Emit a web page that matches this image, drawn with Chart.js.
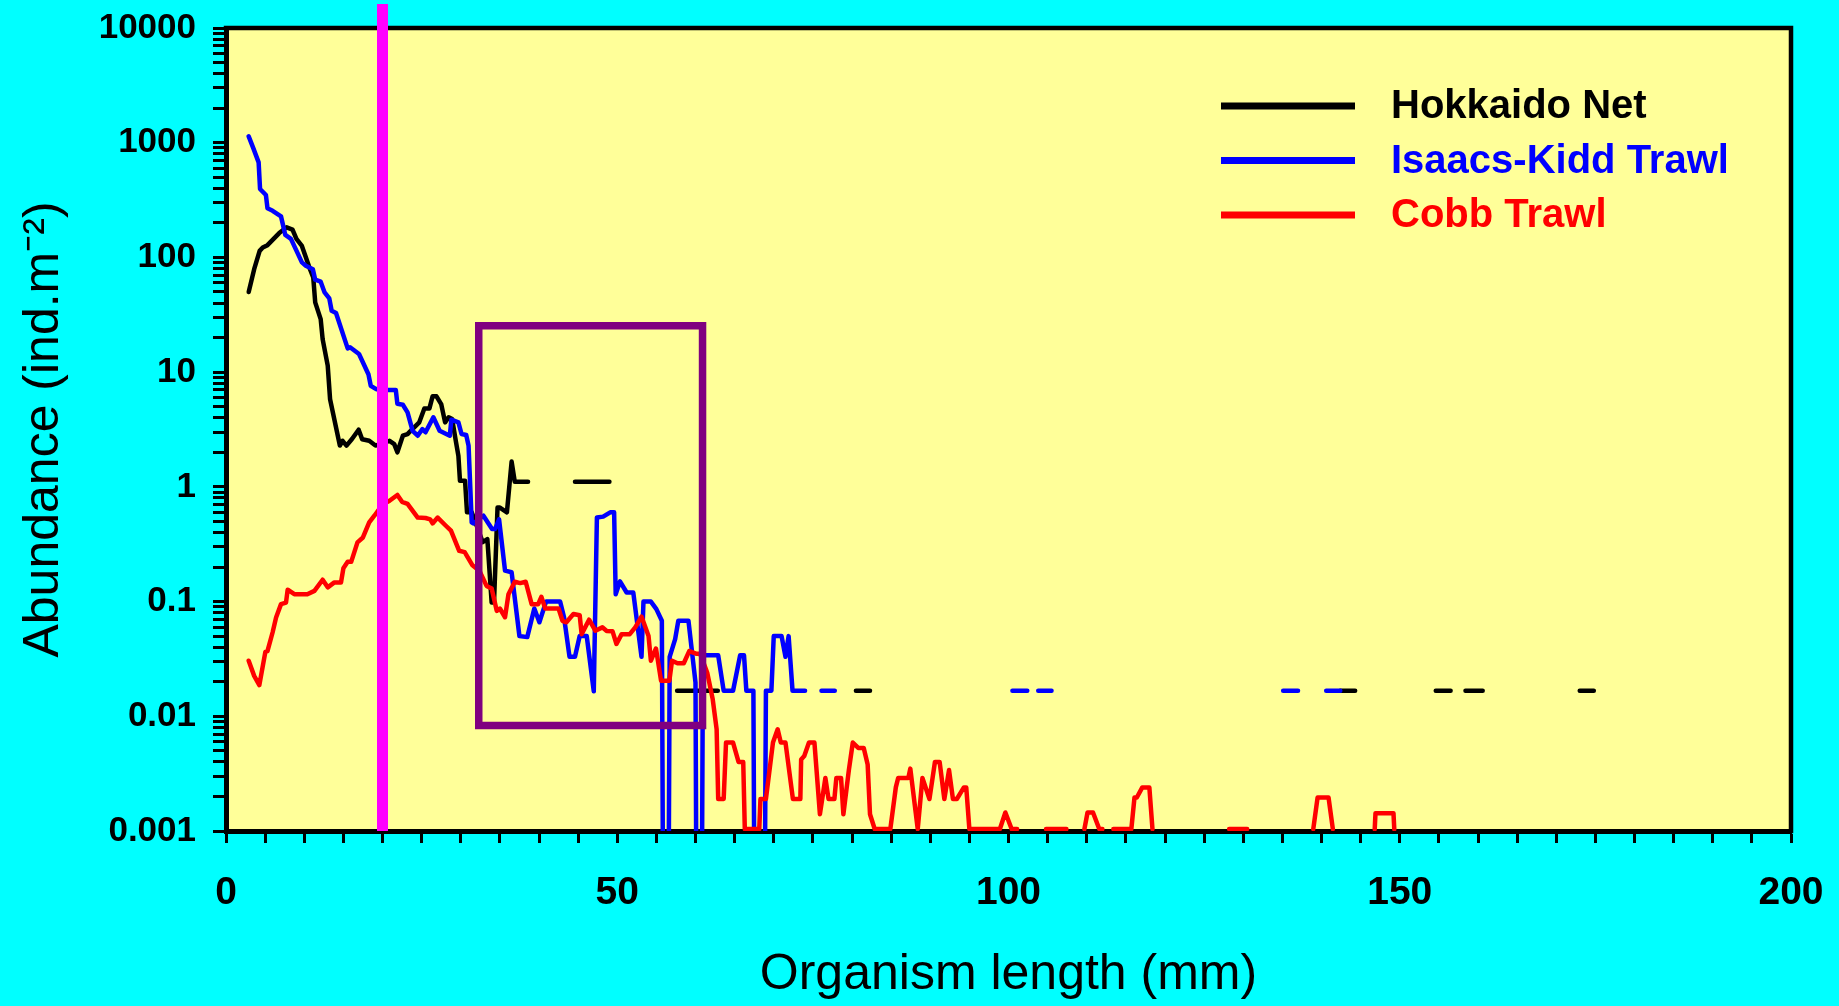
<!DOCTYPE html>
<html>
<head>
<meta charset="utf-8">
<title>Abundance by organism length</title>
<script src="https://cdn.jsdelivr.net/npm/chart.js@4.4.1/dist/chart.umd.min.js"></script>
<style>
    html, body { margin: 0; padding: 0; background: #00ffff; }
    canvas { display: block; }
</style>
</head>
<body>
<canvas id="graph" width="1839" height="1006"></canvas>
<script>
/* [length mm, abundance ind/m2]; null = empty bin, 1e-9 = zero catch (drops off the log axis) */
var hokkaido_net = [
    [2.9, 50], [3.6, 79], [4.3, 114], [4.7, 122], [5.3, 128], [6.8, 163], [7.75, 183], [8.5, 175],
    [9.0, 145], [9.7, 126], [10.65, 82], [11.15, 67], [11.4, 40.6], [12.1, 29], [12.35, 19.4],
    [13.0, 11.4], [13.3, 5.8], [14.55, 2.29], [14.9, 2.52], [15.4, 2.29], [16.1, 2.61], [16.95, 3.15],
    [17.4, 2.6], [18.3, 2.52], [19.1, 2.29], [20.9, 2.52], [21.5, 2.36], [21.9, 2.0], [22.6, 2.79],
    [23.2, 2.88], [23.6, 3.08], [24.7, 3.65], [25.35, 4.83], [26.0, 4.83], [26.4, 6.15], [26.9, 6.15],
    [27.5, 5.27], [28.0, 3.65], [28.45, 4.04], [28.9, 3.9], [29.4, 2.44], [29.7, 1.86], [29.9, 1.13],
    [30.55, 1.13], [30.8, 0.6], [31.4, 0.6], [32.8, 0.33], [33.4, 0.35], [33.95, 0.098], [34.25, 0.098],
    [34.7, 0.66], [35.0, 0.66], [35.9, 0.6], [36.5, 1.66], [36.9, 1.11], [38.6, 1.11],
    [41.5, null], [44.6, 1.11], [49.0, 1.11],
    [53, null], [57.65, 0.0167], [62.85, 0.0167],
    [70, null], [80.5, 0.0167], [82.3, 0.0167],
    [110, null], [142.4, 0.0167], [144.3, 0.0167],
    [150, null], [154.6, 0.0167], [156.5, 0.0167],
    [157.5, null], [158.4, 0.0167], [160.6, 0.0167],
    [165, null], [173.0, 0.0167], [174.8, 0.0167]
];

var isaacs_kidd_trawl = [
    [2.9, 1137], [3.5, 893], [4.17, 674], [4.35, 395], [5.1, 350], [5.3, 268], [5.96, 255], [7.03, 228],
    [7.58, 157], [8.3, 145], [9.7, 90.5], [10.2, 84.7], [11.1, 79], [11.4, 64], [12.1, 61.4], [12.6, 49.5],
    [13.2, 44], [13.5, 34.3], [14.06, 32.8], [15.55, 16.1], [15.85, 16.5], [17.0, 14.4], [18.2, 9.6],
    [18.5, 7.6], [19.2, 7.1], [20.8, 7.0], [21.7, 7.0], [21.9, 5.3], [22.6, 5.2], [23.2, 4.46],
    [23.85, 3.08], [24.5, 2.79], [25.1, 3.19], [25.5, 2.99], [26.5, 4.04], [27.3, 3.08], [28.6, 2.79],
    [28.8, 3.85], [29.7, 3.65], [30.1, 2.89], [30.7, 2.83], [31.0, 2.28], [31.4, 0.49], [31.6, 0.48],
    [32.9, 0.56], [34.0, 0.43], [34.4, 0.43], [34.9, 0.52], [35.66, 0.186], [36.5, 0.18], [37.5, 0.05],
    [38.5, 0.049], [39.4, 0.087], [40.05, 0.066], [40.9, 0.1], [42.7, 0.1], [43.2, 0.073], [43.9, 0.033],
    [44.6, 0.033], [45.2, 0.05], [46.1, 0.05], [47.0, 0.0165], [47.4, 0.54], [48.2, 0.55], [49.1, 0.6],
    [49.6, 0.6], [49.8, 0.116], [50.35, 0.15], [51.2, 0.12], [52.05, 0.12], [53.1, 0.033], [53.35, 0.1],
    [54.3, 0.1], [55.0, 0.086], [55.7, 0.068], [56.2, 1e-9], [56.7, 0.033], [57.4, 0.047], [57.8, 0.068],
    [59.1, 0.068], [60.0, 0.0197], [60.45, 1e-9], [60.95, 0.034], [62.9, 0.034], [63.6, 0.0167],
    [64.8, 0.0167], [65.7, 0.034], [66.2, 0.034], [66.5, 0.0167], [67.4, 0.0167], [67.9, 1e-9],
    [68.4, 1e-9], [69.0, 0.0167], [69.7, 0.0167], [70.0, 0.05], [71.0, 0.05], [71.5, 0.033], [71.9, 0.05],
    [72.4, 0.0167], [74.0, 0.0167],
    [75, null], [76.1, 0.0167], [77.8, 0.0167],
    [90, null], [100.5, 0.0167], [102.4, 0.0167],
    [103.1, null], [103.8, 0.0167], [105.5, 0.0167],
    [120, null], [135.1, 0.0167], [137.0, 0.0167],
    [138.8, null], [140.6, 0.0167], [142.4, 0.0167]
];

var cobb_trawl = [
    [2.9, 0.0305], [3.6, 0.0225], [4.26, 0.0187], [5.03, 0.0365], [5.3, 0.037], [5.96, 0.054], [6.4, 0.0727],
    [7.03, 0.095], [7.67, 0.098], [7.88, 0.127], [8.73, 0.116], [10.4, 0.116], [11.3, 0.124], [12.35, 0.155],
    [13.0, 0.133], [13.85, 0.147], [14.7, 0.147], [15.0, 0.195], [15.55, 0.222], [16.0, 0.222], [16.8, 0.328],
    [17.5, 0.362], [18.3, 0.49], [18.96, 0.56], [20.0, 0.7], [20.9, 0.757], [21.9, 0.85], [22.5, 0.74],
    [23.2, 0.71], [24.5, 0.54], [25.5, 0.535], [26.1, 0.52], [26.4, 0.48], [27.05, 0.54], [28.1, 0.458],
    [28.75, 0.415], [29.8, 0.277], [30.5, 0.27], [31.5, 0.207], [32.4, 0.185], [33.3, 0.137], [33.95, 0.13],
    [34.6, 0.083], [35.0, 0.087], [35.66, 0.073], [36.1, 0.116], [36.9, 0.149], [37.6, 0.145], [38.3, 0.149],
    [39.06, 0.095], [39.9, 0.095], [40.3, 0.11], [40.8, 0.087], [42.5, 0.087], [43.0, 0.068], [43.5, 0.066],
    [44.4, 0.078], [45.2, 0.076], [45.45, 0.052], [46.4, 0.0695], [47.2, 0.0557], [48.1, 0.0596],
    [48.65, 0.0555], [49.4, 0.055], [49.9, 0.0427], [50.56, 0.052], [51.6, 0.052], [52.3, 0.0596],
    [53.1, 0.074], [54.0, 0.05], [54.3, 0.0305], [54.95, 0.039], [55.6, 0.0204], [56.66, 0.0204],
    [57.0, 0.0305], [57.7, 0.029], [58.5, 0.029], [59.2, 0.037], [60.15, 0.035], [60.6, 0.035],
    [61.5, 0.024], [62.2, 0.0141], [62.7, 0.0077], [62.9, 0.0019], [63.6, 0.0019], [63.9, 0.0059],
    [64.8, 0.0059], [65.5, 0.004], [66.1, 0.004], [66.3, 0.00104], [68.15, 0.00104], [68.3, 0.0019],
    [69.0, 0.0019], [69.9, 0.0059], [70.5, 0.0077], [70.9, 0.0059], [71.5, 0.0059], [72.45, 0.0019],
    [73.4, 0.0019], [73.5, 0.0042], [73.9, 0.0045], [74.5, 0.0059], [75.2, 0.0059], [75.9, 0.0014],
    [76.6, 0.0029], [77.0, 0.0019], [77.75, 0.0019], [78.0, 0.0029], [78.6, 0.0029], [78.9, 0.0014],
    [79.6, 0.0034], [80.1, 0.0059], [80.8, 0.0053], [81.5, 0.0053], [82.0, 0.0038], [82.3, 0.0014],
    [82.9, 0.00104], [84.9, 0.00104], [85.6, 0.0024], [85.9, 0.0029], [87.2, 0.0029], [87.45, 0.0035],
    [88.4, 0.00104], [89.0, 0.0029], [89.9, 0.0019], [90.6, 0.004], [91.2, 0.004], [91.8, 0.0019],
    [92.4, 0.0034], [92.9, 0.0019], [93.4, 0.0019], [94.3, 0.0024], [94.6, 0.0024], [95.0, 0.00104],
    [98.9, 0.00104], [99.6, 0.00145], [100.4, 0.00104], [101.1, 0.00104],
    [103, null], [104.8, 0.00104], [107.4, 0.00104],
    [108.5, null], [109.7, 0.00104], [110.1, 0.00145], [110.8, 0.00145], [111.6, 0.00104], [112.0, 0.00104],
    [112.7, null], [113.4, 0.00104], [115.7, 0.00104], [116.1, 0.00196], [116.4, 0.00196], [117.1, 0.0024],
    [118.0, 0.0024], [118.4, 0.00104],
    [125, null], [128.2, 0.00104], [130.5, 0.00104],
    [135, null], [138.95, 0.00104], [139.5, 0.00196], [140.9, 0.00196], [141.45, 0.00104],
    [145, null], [146.8, 0.00104], [146.9, 0.00143], [149.2, 0.00143], [149.3, 0.00104]
];

/* size cut-off line and the highlighted window (length mm / abundance) */
var cutoff_length = 20;
var window_x = [32.3, 60.9];
var window_y = [0.0083, 25.4];

/* axis ticks */
var x_ticks = [0, 50, 100, 150, 200];
var y_decades = [0.001, 0.01, 0.1, 1, 10, 100, 1000, 10000];
var y_labels = ['0.001', '0.01', '0.1', '1', '10', '100', '1000', '10000'];

var font_family = '"Liberation Sans", Arial, Helvetica, sans-serif';

function to_points(rows)
{
    return rows.map(function (r) { return {x: r[0], y: r[1]}; });
}

/* major decades plus 2..9 minor ticks in each one */
function log_ticks()
{
    var ticks = [];
    for (var i = 0; i < y_decades.length; i++) {
        ticks.push({value: y_decades[i]});
        if (i < y_decades.length - 1) {
            for (var m = 2; m <= 9; m++) {
                ticks.push({value: Number((m * y_decades[i]).toPrecision(3))});
            }
        }
    }
    return ticks;
}

function series(label, rows, color, order)
{
    return {
        label: label,
        data: to_points(rows),
        borderColor: color,
        backgroundColor: color,
        borderWidth: 4.5,
        borderCapStyle: 'round',
        borderJoinStyle: 'round',
        pointRadius: 0,
        tension: 0,
        spanGaps: false,
        order: order
    };
}

/* yellow plot area, cyan page, top and right frame */
var plot_frame = {
    id: 'plot_frame',
    beforeDraw: function (chart) {
        var ctx = chart.ctx, a = chart.chartArea;
        ctx.save();
        ctx.fillStyle = '#00ffff';
        ctx.fillRect(0, 0, chart.width, chart.height);
        ctx.fillStyle = '#ffff99';
        ctx.fillRect(a.left, a.top, a.right - a.left, a.bottom - a.top);
        ctx.restore();
    },
    beforeDatasetsDraw: function (chart) {
        var ctx = chart.ctx, a = chart.chartArea;
        ctx.save();
        ctx.strokeStyle = '#000000';
        ctx.lineWidth = 4.5;
        ctx.lineCap = 'square';
        ctx.beginPath();
        ctx.moveTo(a.left, a.top);
        ctx.lineTo(a.right, a.top);
        ctx.lineTo(a.right, a.bottom);
        ctx.stroke();
        ctx.restore();
    }
};

/* legend inside the plot, text coloured like the line */
var legend_box = {
    id: 'legend_box',
    afterDraw: function (chart) {
        var ctx = chart.ctx, a = chart.chartArea;
        var items = chart.data.datasets.filter(function (d) { return d.label; });
        ctx.save();
        ctx.font = 'bold 40px ' + font_family;
        ctx.textBaseline = 'alphabetic';
        ctx.textAlign = 'left';
        items.forEach(function (d, i) {
            var y = a.top + 90 + i * 54.5;
            ctx.strokeStyle = d.borderColor;
            ctx.lineWidth = 7;
            ctx.beginPath();
            ctx.moveTo(a.right - 570, y - 12);
            ctx.lineTo(a.right - 436, y - 12);
            ctx.stroke();
            ctx.fillStyle = d.borderColor;
            ctx.fillText(d.label, a.right - 400, y);
        });
        ctx.restore();
    }
};

function draw_graph()
{
    var context = document.getElementById('graph');

    var datasets = [
        series('Hokkaido Net', hokkaido_net, '#000000', 5),
        series('Isaacs-Kidd Trawl', isaacs_kidd_trawl, '#0000ff', 4),
        series('Cobb Trawl', cobb_trawl, '#ff0000', 3),
        {
            data: [
                {x: window_x[0], y: window_y[1]}, {x: window_x[1], y: window_y[1]},
                {x: window_x[1], y: window_y[0]}, {x: window_x[0], y: window_y[0]},
                {x: window_x[0], y: window_y[1]}
            ],
            borderColor: '#800080',
            borderWidth: 7.5,
            borderJoinStyle: 'miter',
            borderCapStyle: 'square',
            pointRadius: 0,
            tension: 0,
            order: 2
        },
        {
            /* runs up past the top of the frame */
            data: [{x: cutoff_length, y: y_decades[0]}, {x: cutoff_length, y: 1e6}],
            borderColor: '#ff00ff',
            borderWidth: 11,
            pointRadius: 0,
            clip: {left: 10, top: 24, right: 10, bottom: 0},
            order: 1
        }
    ];

    new Chart(context, {
        type: 'line',
        data: {datasets: datasets},
        plugins: [plot_frame, legend_box],
        options: {
            responsive: false,
            animation: false,
            devicePixelRatio: 1,
            layout: {padding: {left: 0, top: 28, right: 48, bottom: 0}},
            plugins: {
                legend: {display: false},
                tooltip: {enabled: false}
            },
            scales: {
                x: {
                    type: 'linear',
                    min: x_ticks[0],
                    max: x_ticks[x_ticks.length - 1],
                    z: 1,
                    afterFit: function (scale) {
                        scale.height = 175;
                        /* end labels may hang over the frame */
                        scale.paddingLeft = 0;
                        scale.paddingRight = 0;
                    },
                    ticks: {
                        stepSize: 5,
                        autoSkip: false,
                        maxRotation: 0,
                        padding: 27,
                        color: '#000000',
                        font: {family: font_family, size: 39, weight: 'bold'},
                        callback: function (value) {
                            return x_ticks.indexOf(value) >= 0 ? String(value) : '';
                        }
                    },
                    grid: {drawOnChartArea: false, tickLength: 12, tickWidth: 3, tickColor: '#000000'},
                    border: {display: true, color: '#000000', width: 5},
                    title: {
                        display: true,
                        text: 'Organism length (mm)',
                        color: '#000000',
                        font: {family: font_family, size: 50},
                        padding: {top: 0, bottom: 1}
                    }
                },
                y: {
                    type: 'logarithmic',
                    min: y_decades[0],
                    max: y_decades[y_decades.length - 1],
                    z: 1,
                    afterFit: function (scale) {
                        scale.width = 226;
                        scale.paddingTop = 0;
                        scale.paddingBottom = 0;
                    },
                    afterBuildTicks: function (scale) { scale.ticks = log_ticks(); },
                    ticks: {
                        autoSkip: false,
                        padding: 17,
                        color: '#000000',
                        font: {family: font_family, size: 35, weight: 'bold'},
                        callback: function (value) {
                            var i = y_decades.indexOf(value);
                            return i >= 0 ? y_labels[i] : '';
                        }
                    },
                    grid: {drawOnChartArea: false, tickLength: 13, tickWidth: 3, tickColor: '#000000'},
                    border: {display: true, color: '#000000', width: 5},
                    title: {
                        display: true,
                        text: 'Abundance (ind.m\u207B\u00B2)',
                        color: '#000000',
                        font: {family: font_family, size: 50},
                        padding: {top: 14, bottom: 0}
                    }
                }
            }
        }
    });
}

draw_graph();
</script>
</body>
</html>
